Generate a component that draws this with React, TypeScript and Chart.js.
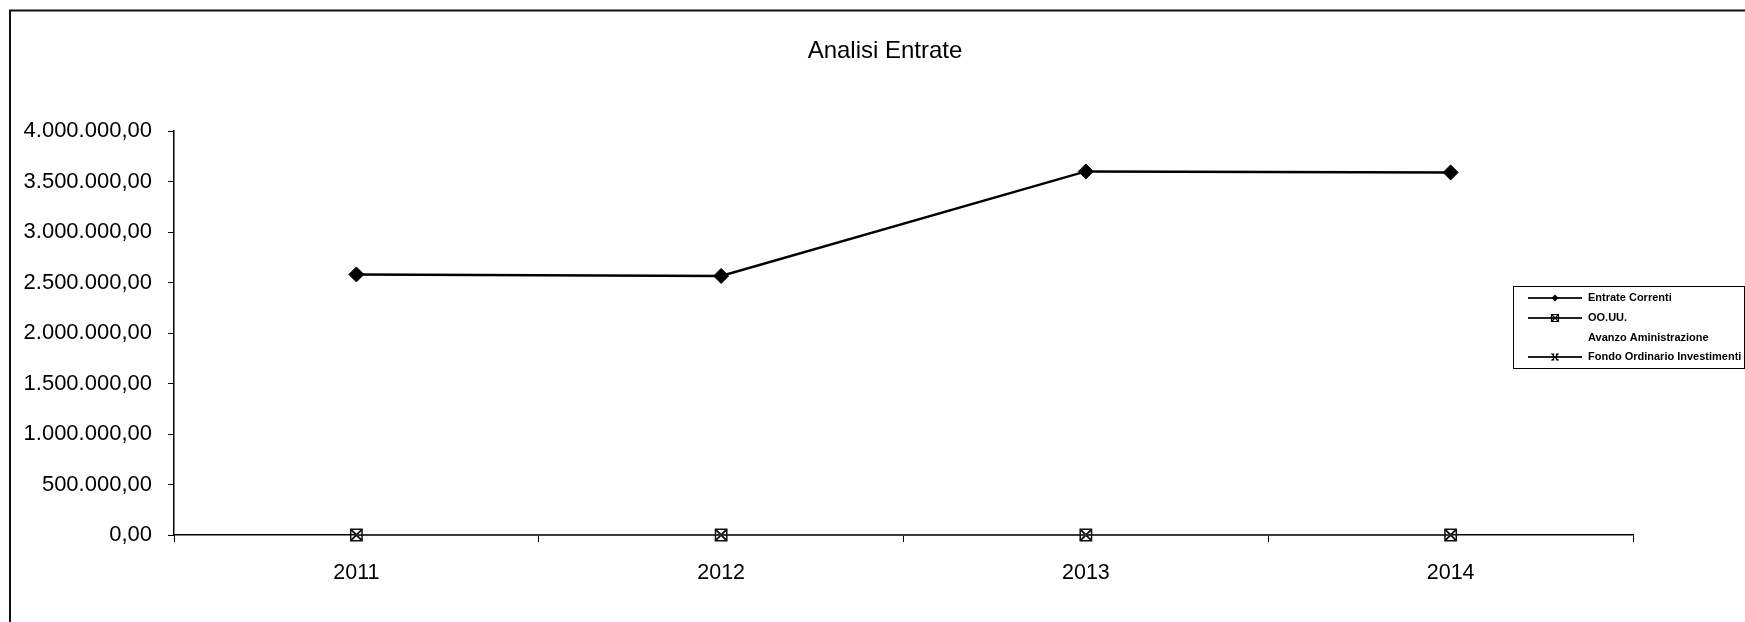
import React, { useEffect, useRef } from "react";
import { Chart, registerables } from "chart.js";

Chart.register(...registerables);

const categories = ["2011", "2012", "2013", "2014"];
const entrateCorrenti = [2580000, 2565000, 3600000, 3590000];
const oouu = [0, 0, 0, 0];
const avanzoAmministrazione = [0, 0, 0, 0];
const fondoOrdinarioInvestimenti = [0, 0, 0, 0];
const seriesNames = ["Entrate Correnti", "OO.UU.", "Avanzo Aministrazione", "Fondo Ordinario Investimenti"];
const titleText = "Analisi Entrate";
const yMin = 0;
const yMax = 4000000;
const yStep = 500000;

const FONT = "'Liberation Sans', Arial, sans-serif";

function formatIt(v: number): string {
  const neg = v < 0;
  const abs = Math.abs(v);
  const intPart = Math.floor(abs).toString();
  const dec = Math.round((abs - Math.floor(abs)) * 100).toString().padStart(2, "0");
  const grouped = intPart.replace(/\B(?=(\d{3})+(?!\d))/g, ".");
  return (neg ? "-" : "") + grouped + "," + dec;
}

function legendMarker(ctx: CanvasRenderingContext2D, style: string, x: number, y: number) {
  const r = 3.5;
  ctx.save();
  ctx.fillStyle = "#000";
  ctx.strokeStyle = "#000";
  ctx.lineWidth = 1.2;
  ctx.beginPath();
  if (style === "rectRot") {
    ctx.moveTo(x - r, y);
    ctx.lineTo(x, y - r);
    ctx.lineTo(x + r, y);
    ctx.lineTo(x, y + r);
    ctx.closePath();
    ctx.fill();
  } else if (style === "rect") {
    ctx.rect(x - r, y - r, 2 * r, 2 * r);
    ctx.stroke();
    ctx.beginPath();
    ctx.moveTo(x - r, y - r);
    ctx.lineTo(x + r, y + r);
    ctx.moveTo(x + r, y - r);
    ctx.lineTo(x - r, y + r);
    ctx.stroke();
  } else if (style === "crossRot") {
    ctx.moveTo(x - r, y - r);
    ctx.lineTo(x + r, y + r);
    ctx.moveTo(x + r, y - r);
    ctx.lineTo(x - r, y + r);
    ctx.moveTo(x - 1.5, y - r);
    ctx.lineTo(x - 1.5, y + r);
    ctx.moveTo(x + 1.5, y - r);
    ctx.lineTo(x + 1.5, y + r);
    ctx.stroke();
  }
  ctx.restore();
}

const framePlugin = {
  id: "framePlugin",
  beforeDraw(chart: any) {
    const ctx = chart.ctx;
    ctx.save();
    ctx.fillStyle = "#ffffff";
    ctx.fillRect(0, 0, chart.width, chart.height);
    ctx.strokeStyle = "#111";
    ctx.lineWidth = 2;
    ctx.beginPath();
    ctx.moveTo(10, 622);
    ctx.lineTo(10, 10.5);
    ctx.lineTo(1745, 10.5);
    ctx.stroke();
    ctx.restore();
  },
  afterDraw(chart: any) {
    const ctx = chart.ctx;
    ctx.save();
    ctx.fillStyle = "#000";
    ctx.font = `24px ${FONT}`;
    ctx.textAlign = "center";
    ctx.textBaseline = "middle";
    ctx.fillText(titleText, 885, 51);
    const bx = 1513.5, by = 286.5, bw = 231, bh = 82;
    ctx.strokeStyle = "#000";
    ctx.lineWidth = 1;
    ctx.strokeRect(bx, by, bw, bh);
    const rowY = [298, 318, 338, 357];
    chart.data.datasets.forEach((ds: any, i: number) => {
      const y = rowY[i];
      if (ds.showLine !== false) {
        ctx.strokeStyle = "#222";
        ctx.lineWidth = 2;
        ctx.beginPath();
        ctx.moveTo(1528, y);
        ctx.lineTo(1582, y);
        ctx.stroke();
        legendMarker(ctx, ds.pointStyle, 1555, y);
      }
      ctx.fillStyle = "#000";
      ctx.font = `bold 11px ${FONT}`;
      ctx.textAlign = "left";
      ctx.textBaseline = "middle";
      ctx.fillText(ds.label, 1588, y);
    });
    ctx.restore();
  },
};

export default function App() {
  const ref = useRef<HTMLCanvasElement | null>(null);
  useEffect(() => {
    document.body.style.margin = "0";
    const canvas = ref.current!;
    const chart = new Chart(canvas, {
      type: "line",
      data: {
        labels: categories,
        datasets: [
          {
            label: seriesNames[0],
            data: entrateCorrenti,
            borderColor: "#000",
            backgroundColor: "#000",
            borderWidth: 2.5,
            pointStyle: "rectRot",
            pointRadius: 7.5,
            pointBorderWidth: 1,
            pointBackgroundColor: "#000",
            pointBorderColor: "#000",
            tension: 0,
            clip: false,
          },
          {
            label: seriesNames[1],
            data: oouu,
            borderColor: "#333",
            backgroundColor: "#fff",
            borderWidth: 1.5,
            pointStyle: "rect",
            pointRadius: 8,
            pointBorderWidth: 1.5,
            pointBackgroundColor: "rgba(255,255,255,0)",
            pointBorderColor: "#111",
            tension: 0,
            clip: false,
          },
          {
            label: seriesNames[2],
            data: avanzoAmministrazione,
            borderColor: "rgba(0,0,0,0)",
            backgroundColor: "rgba(0,0,0,0)",
            showLine: false,
            pointRadius: 0,
          },
          {
            label: seriesNames[3],
            data: fondoOrdinarioInvestimenti,
            borderColor: "#555",
            backgroundColor: "#000",
            borderWidth: 1.5,
            pointStyle: "crossRot",
            pointRadius: 8,
            pointBorderWidth: 2,
            pointBorderColor: "#111",
            tension: 0,
            clip: false,
          },
        ],
      },
      options: {
        responsive: false,
        animation: false,
        devicePixelRatio: 1,
        layout: { padding: { left: 0, right: 112, top: 131, bottom: 0 } },
        plugins: {
          legend: { display: false },
          title: { display: false },
          tooltip: { enabled: false },
        },
        scales: {
          x: {
            type: "category",
            offset: true,
            grid: { offset: true, drawOnChartArea: false, drawTicks: true, tickLength: 7, color: "#000", lineWidth: 1 },
            border: { display: true, color: "#000", width: 1.5 },
            ticks: { color: "#000", font: { family: FONT, size: 21.5 }, padding: 18, maxRotation: 0 },
            afterFit: (s: any) => { s.height = 87; },
          },
          y: {
            min: yMin,
            max: yMax,
            grid: { drawOnChartArea: false, drawTicks: true, tickLength: 6, color: "#000", lineWidth: 1 },
            border: { display: true, color: "#000", width: 1.5 },
            ticks: {
              stepSize: yStep,
              color: "#000",
              font: { family: FONT, size: 22 },
              padding: 16,
              callback: (v: any) => formatIt(Number(v)),
            },
            afterFit: (s: any) => { s.width = 174; },
          },
        },
      },
      plugins: [framePlugin],
    });
    return () => chart.destroy();
  }, []);
  return (
    <div style={{ position: "absolute", left: 0, top: 0, width: 1745, height: 622 }}>
      <canvas ref={ref} width={1745} height={622} style={{ width: 1745, height: 622, display: "block" }} />
    </div>
  );
}
